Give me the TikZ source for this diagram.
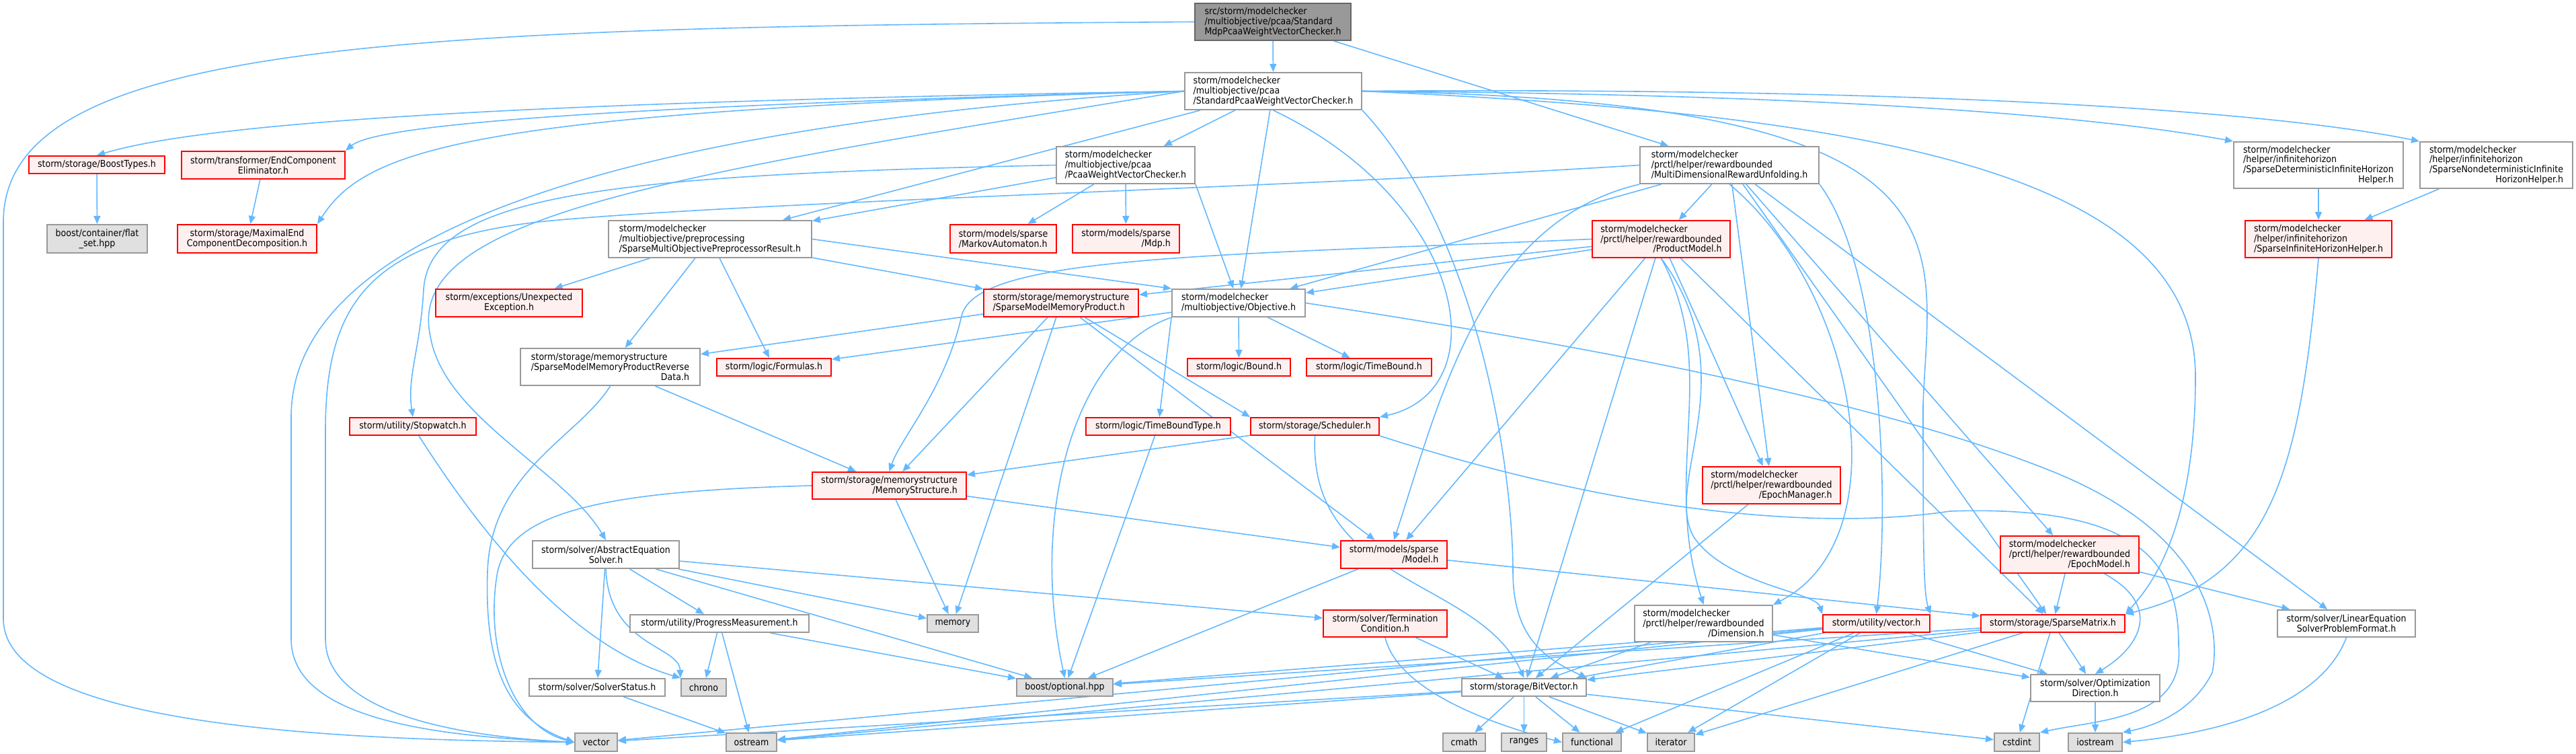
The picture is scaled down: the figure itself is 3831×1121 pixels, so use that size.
\documentclass[tikz,border=0pt]{standalone}
\usepackage{fontspec}
\setmainfont{DejaVu Sans}[FakeStretch=0.9]
\usetikzlibrary{arrows.meta}
\definecolor{linkblue}{HTML}{63B8FF}
\definecolor{redfill}{HTML}{FFF0F0}
\definecolor{extfill}{HTML}{E0E0E0}
\definecolor{boxgray}{HTML}{999999}
\definecolor{hdrfill}{HTML}{999999}
\definecolor{hdrline}{HTML}{666666}
\pgfdeclarelayer{edges}
\pgfsetlayers{edges,main}
\newcommand{\lastc}[1]{\hfill#1\hfill}
\tikzset{
  nd/.style={draw=boxgray, line width=2pt, fill=white, inner sep=0pt, align=left,
    font=\fontsize{14}{14.8}\selectfont},
  file/.style={nd},
  trunc/.style={nd, draw=red, fill=redfill},
  ext/.style={nd, fill=extfill},
  hdr/.style={nd, draw=hdrline, fill=hdrfill},
  sz/.style 2 args={minimum width=#1pt, minimum height=#2pt},
  dep/.style={draw=linkblue, line width=1.6pt, -{Triangle[length=12pt,width=10pt]}},
}
\begin{document}
\begin{tikzpicture}[x=1pt, y=-1pt]
	\useasboundingbox (0,0) rectangle (3831,1121);
	% the file itself and its direct includes
	\node[hdr, sz={232}{55}] (main) at (1893,32.5) {src/storm/modelchecker\\/multiobjective/pcaa/Standard\\MdpPcaaWeightVectorChecker.h};
	\node[file, sz={263}{55}] (std) at (1893.5,135.5) {storm/modelchecker\\/multiobjective/pcaa\\/StandardPcaaWeightVectorChecker.h};
	\node[file, sz={206}{55}] (pcaa) at (1674,245.5) {storm/modelchecker\\/multiobjective/pcaa\\/PcaaWeightVectorChecker.h};
	\node[file, sz={266}{55}] (mdru) at (2572,245.5) {storm/modelchecker\\/prctl/helper/rewardbounded\\/MultiDimensionalRewardUnfolding.h};
	\node[file, sz={252}{69}] (sdih) at (3448,245.5) {storm/modelchecker\\/helper/infinitehorizon\\/SparseDeterministicInfiniteHorizon\\\lastc{Helper.h}};
	\node[file, sz={227}{69}] (sndih) at (3712.5,245.5) {storm/modelchecker\\/helper/infinitehorizon\\/SparseNondeterministicInfinite\\\lastc{HorizonHelper.h}};
	\node[trunc, sz={202}{26}] (boost) at (144,245) {storm/storage/BoostTypes.h};
	\node[trunc, sz={243}{41}, align=center] (ece) at (391.5,245.5) {storm/transformer/EndComponent\\Eliminator.h};
	% third rank
	\node[ext, sz={149}{42}, align=center] (flatset) at (144.5,355) {boost/container/flat\\\_set.hpp};
	\node[trunc, sz={207}{42}, align=center] (mecd) at (367.5,355) {storm/storage/MaximalEnd\\ComponentDecomposition.h};
	\node[file, sz={302}{55}] (prep) at (1056,355.5) {storm/modelchecker\\/multiobjective/preprocessing\\/SparseMultiObjectivePreprocessorResult.h};
	\node[trunc, sz={158}{42}] (ma) at (1492,355) {storm/models/sparse\\/MarkovAutomaton.h};
	\node[trunc, sz={159}{42}] (mdp) at (1674.5,355) {storm/models/sparse\\\lastc{/Mdp.h}};
	\node[trunc, sz={205}{55}] (prod) at (2470.5,355.5) {storm/modelchecker\\/prctl/helper/rewardbounded\\\lastc{/ProductModel.h}};
	\node[trunc, sz={218}{55}] (sihh) at (3448,355.5) {storm/modelchecker\\/helper/infinitehorizon\\/SparseInfiniteHorizonHelper.h};
	% middle
	\node[trunc, sz={218}{41}, align=center] (unexp) at (757,450.5) {storm/exceptions/Unexpected\\Exception.h};
	\node[trunc, sz={230}{41}] (smmp) at (1578,450.5) {storm/storage/memorystructure\\/SparseModelMemoryProduct.h};
	\node[file, sz={198}{41}] (obj) at (1842,450.5) {storm/modelchecker\\/multiobjective/Objective.h};
	\node[file, sz={267}{55}] (smmprd) at (907.5,545.5) {storm/storage/memorystructure\\/SparseModelMemoryProductReverse\\\lastc{Data.h}};
	\node[trunc, sz={170}{26}] (formulas) at (1151,546) {storm/logic/Formulas.h};
	\node[trunc, sz={153}{26}] (bound) at (1842.5,546) {storm/logic/Bound.h};
	\node[trunc, sz={186}{26}] (timebound) at (2036,546) {storm/logic/TimeBound.h};
	\node[trunc, sz={188}{26}] (stopwatch) at (614,634) {storm/utility/Stopwatch.h};
	\node[trunc, sz={215}{26}] (tbt) at (1722.5,634) {storm/logic/TimeBoundType.h};
	\node[trunc, sz={191}{26}] (sched) at (1955.5,634) {storm/storage/Scheduler.h};
	\node[trunc, sz={229}{40}] (memstruct) at (1322.5,722) {storm/storage/memorystructure\\\lastc{/MemoryStructure.h}};
	\node[trunc, sz={205}{55}] (epochman) at (2634.5,721.5) {storm/modelchecker\\/prctl/helper/rewardbounded\\\lastc{/EpochManager.h}};
	\node[file, sz={218}{41}, align=center] (aes) at (901,824.5) {storm/solver/AbstractEquation\\Solver.h};
	\node[trunc, sz={158}{41}] (model) at (2073,824.5) {storm/models/sparse\\\lastc{/Model.h}};
	\node[trunc, sz={206}{55}] (epochmodel) at (3078,824.5) {storm/modelchecker\\/prctl/helper/rewardbounded\\\lastc{/EpochModel.h}};
	\node[file, sz={266}{26}] (progress) at (1070,927) {storm/utility/ProgressMeasurement.h};
	\node[ext, sz={76}{26}] (memory) at (1417,927) {memory};
	\node[trunc, sz={184}{40}, align=center] (termcond) at (2060,927) {storm/solver/Termination\\Condition.h};
	\node[file, sz={205}{54}] (dim) at (2533.5,927) {storm/modelchecker\\/prctl/helper/rewardbounded\\\lastc{/Dimension.h}};
	\node[trunc, sz={159}{26}] (uvec) at (2790.5,927) {storm/utility/vector.h};
	\node[trunc, sz={214}{26}] (smatrix) at (3053,927) {storm/storage/SparseMatrix.h};
	\node[file, sz={205}{40}, align=center] (lesp) at (3489.5,927) {storm/solver/LinearEquation\\SolverProblemFormat.h};
	\node[file, sz={202}{26}] (solverstatus) at (888,1022) {storm/solver/SolverStatus.h};
	\node[ext, sz={67}{26}] (chrono) at (1046.5,1022) {chrono};
	\node[ext, sz={143}{26}] (optional) at (1583.5,1022) {boost/optional.hpp};
	\node[file, sz={185}{26}] (bitvec) at (2266.5,1022) {storm/storage/BitVector.h};
	\node[file, sz={192}{40}, align=center] (optdir) at (3116,1023) {storm/solver/Optimization\\Direction.h};
	% system headers
	\node[ext, sz={63}{27}] (vector) at (886.5,1103.5) {vector};
	\node[ext, sz={75}{27}] (ostream) at (1117.5,1103.5) {ostream};
	\node[ext, sz={63}{27}] (cmath) at (2177.5,1103.5) {cmath};
	\node[ext, sz={67}{27}] (ranges) at (2266.5,1103.5) {ranges};
	\node[ext, sz={87}{27}] (functional) at (2367.5,1103.5) {functional};
	\node[ext, sz={70}{27}] (iterator) at (2485,1103.5) {iterator};
	\node[ext, sz={67}{27}] (cstdint) at (2999.5,1103.5) {cstdint};
	\node[ext, sz={80}{27}] (iostream) at (3116,1103.5) {iostream};
	\begin{pgfonlayer}{edges}
	% short include edges
	\foreach \s/\t in {main/std, main/mdru, std/pcaa, std/prep, std/obj, boost/flatset, ece/mecd,
		pcaa/prep, pcaa/ma, pcaa/mdp, mdru/prod, sdih/sihh, sndih/sihh, prep/unexp, prep/formulas,
		prep/smmprd, prep/smmp, smmp/smmprd, obj/formulas, obj/bound, obj/timebound, prod/obj,
		mdru/obj, prod/smmp, smmprd/memstruct, smmp/memstruct, sched/memstruct, mdru/epochman,
		prod/epochman, aes/progress, aes/solverstatus, aes/memory, aes/termcond, aes/optional,
		progress/chrono, progress/ostream, progress/optional, solverstatus/ostream, memstruct/memory,
		smmp/memory, tbt/optional, termcond/bitvec, prod/model, smmp/model, memstruct/model,
		model/smatrix, model/optional, dim/bitvec, dim/optdir, uvec/bitvec, uvec/optional,
		uvec/iterator, uvec/functional, uvec/optdir, uvec/ostream, uvec/vector, epochmodel/smatrix,
		epochmodel/lesp, smatrix/bitvec, smatrix/optdir, smatrix/cstdint, smatrix/iterator,
		smatrix/optional, smatrix/ostream, optdir/iostream, bitvec/cmath, bitvec/ranges,
		bitvec/functional, bitvec/iterator, bitvec/cstdint, bitvec/ostream, bitvec/vector,
		epochman/bitvec, prod/bitvec, prod/smatrix, mdru/smatrix, mdru/lesp, mdru/epochmodel}
		{ \draw[dep] (\s) -- (\t); }
	\draw[dep] (pcaa.south east) -- (obj);
	\draw[dep] (prep.east) -- (obj.north west);
	\draw[dep] (obj.south west) -- (tbt);
	\draw[dep] (smmp) -- (sched.north west);
	% long ones round the left
	\draw[dep] (main.west) .. controls (600,40) and (5,60) .. (5,330) -- (5,920) .. controls (5,1080) and (500,1100) .. (vector.west);
	\draw[dep] (std.west) .. controls (1100,175) and (433,300) .. (433,620) -- (433,950) .. controls (433,1070) and (650,1095) .. (vector.west);
	\draw[dep] (mdru.west) .. controls (1900,280) and (1100,300) .. (800,330) .. controls (550,360) and (484,450) .. (484,640) -- (484,950) .. controls (484,1060) and (680,1095) .. (vector.west);
	\draw[dep] (std.west) .. controls (900,150) and (330,175) .. (boost.north);
	\draw[dep] (std.west) .. controls (900,158) and (560,185) .. (ece.north east);
	\draw[dep] (std.west) .. controls (700,165) and (545,220) .. (mecd.north east);
	\draw[dep] (std.west) .. controls (1000,260) and (600,320) .. (640,500) .. controls (660,620) and (840,700) .. (aes.north);
	\draw[dep] (pcaa.west) .. controls (900,260) and (640,290) .. (630,430) .. controls (625,520) and (605,560) .. (stopwatch.north);
	\draw[dep] (memstruct.west) .. controls (900,730) and (760,760) .. (740,850) .. controls (720,960) and (760,1080) .. (vector.west);
	\draw[dep] (smmprd.south) .. controls (860,650) and (730,700) .. (725,850) .. controls (720,1000) and (760,1070) .. (vector.west);
	\draw[dep] (aes.south) .. controls (905,960) and (1010,960) .. (chrono.north west);
	\draw[dep] (stopwatch) .. controls (720,800) and (850,960) .. (chrono.north west);
	\draw[dep] (obj.south west) .. controls (1600,520) and (1530,760) .. (optional.north);
	\draw[dep] (prod.west) .. controls (1800,380) and (1450,380) .. (1430,470) .. controls (1405,580) and (1340,650) .. (memstruct.north);
	% long ones round the right
	\draw[dep] (std.east) .. controls (2700,140) and (3100,170) .. (sdih.north west);
	\draw[dep] (std.east) .. controls (2800,130) and (3350,160) .. (sndih.north west);
	\draw[dep] (std.east) .. controls (2800,170) and (3265,260) .. (3265,560) .. controls (3265,800) and (3190,880) .. (smatrix.north east);
	\draw[dep] (std.east) .. controls (2950,150) and (2870,350) .. (2860,600) .. controls (2860,800) and (2860,880) .. (uvec.north east);
	\draw[dep] (std.south) .. controls (2180,300) and (2230,580) .. (sched.north east);
	\draw[dep] (std.south east) .. controls (2200,350) and (2250,700) .. (2250,850) .. controls (2250,950) and (2300,980) .. (bitvec.north east);
	\draw[dep] (mdru.south west) .. controls (2200,330) and (2140,600) .. (model.north);
	\draw[dep] (mdru.south) .. controls (2760,430) and (2830,800) .. (dim.north east);
	\draw[dep] (mdru.south east) .. controls (2800,400) and (2810,750) .. (uvec.north);
	\draw[dep] (prod.south) .. controls (2560,550) and (2470,700) .. (dim.north);
	\draw[dep] (prod.south) .. controls (2600,560) and (2470,720) .. (2520,800) .. controls (2570,870) and (2700,880) .. (uvec.north west);
	\draw[dep] (sihh.south) .. controls (3420,700) and (3380,860) .. (smatrix.north east);
	\draw[dep] (sched.south) .. controls (1945,870) and (2200,860) .. (bitvec.north);
	\draw[dep] (sched.south east) .. controls (2400,760) and (2700,790) .. (2900,760) .. controls (3200,750) and (3240,850) .. (3240,960) .. controls (3250,1070) and (3120,1070) .. (cstdint.north east);
	\draw[dep] (obj.east) .. controls (2400,520) and (2800,600) .. (3050,700) .. controls (3300,800) and (3300,950) .. (3290,1000) .. controls (3260,1060) and (3200,1080) .. (iostream.north east);
	\draw[dep] (termcond.south) .. controls (2080,1030) and (2230,1080) .. (functional.west);
	\draw[dep] (epochmodel) .. controls (3215,900) and (3185,960) .. (optdir.north);
	\draw[dep] (lesp.south) .. controls (3450,1050) and (3300,1090) .. (iostream.east);
	\end{pgfonlayer}
\end{tikzpicture}
\end{document}
